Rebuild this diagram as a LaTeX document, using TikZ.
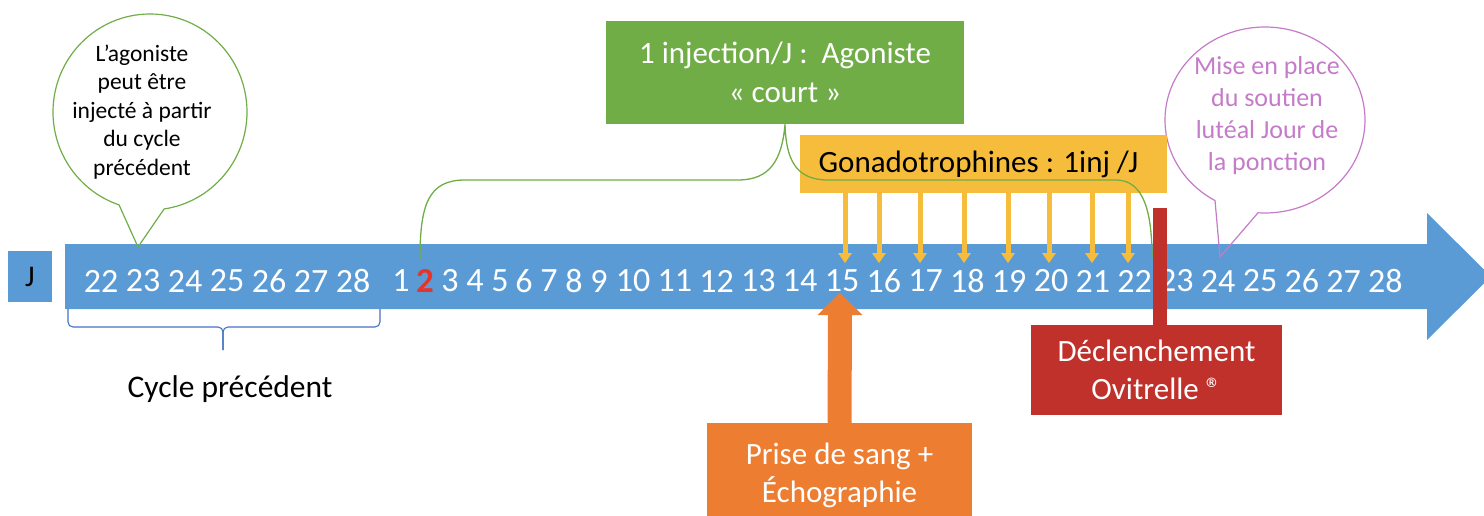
\documentclass[tikz,border=0pt]{standalone}
\usepackage{fontspec}
\setmainfont{Carlito}
\usetikzlibrary{shapes.callouts,calc}
\definecolor{blueA}{HTML}{5B9BD5}
\definecolor{greenA}{HTML}{70AD47}
\definecolor{orangeA}{HTML}{ED7D31}
\definecolor{goldA}{HTML}{F6BD3C}
\definecolor{redA}{HTML}{C0312B}
\definecolor{pinkA}{HTML}{C47BC8}
\definecolor{braceA}{HTML}{4472C4}
\definecolor{redday}{HTML}{E5352B}
\begin{document}
\begin{tikzpicture}[x=1pt,y=-1pt,
  day/.style={text=white,inner sep=0pt,font=\fontsize{34}{40}\selectfont},
  box/.style={rectangle,inner sep=0pt,align=center},
  gline/.style={draw=greenA,line width=1.3pt},
  gshaft/.style={draw=goldA,line width=5pt},
  oshaft/.style={draw=orangeA,line width=24pt},
  bubble/.style={ellipse callout,inner sep=0pt,line width=1.2pt}
]
\useasboundingbox (0,0) rectangle (1484,516);

% main timeline arrow
\fill[blueA] (65,244) -- (1427,244) -- (1427,213) -- (1491,276.5) -- (1427,340) -- (1427,309) -- (65,309) -- cycle;

% J box
\node[box,fill=blueA,minimum width=44pt,minimum height=51pt,font=\fontsize{30}{34}\selectfont] (J) at (30,276.5) {J};

% day numbers
\foreach \n [count=\i from 0] in {22,23,24,25,26,27,28}
  \node[day] (p\n) at ({101+42*\i},281) {\n};
\foreach \n/\x in {1/401,3/450,4/475,5/500,6/524,7/549,8/574,9/599}
  \node[day] (c\n) at (\x,281) {\n};
\node[day,text=redday,font=\fontsize{35}{40}\selectfont\bfseries] (c2) at (425,281) {2};
\foreach \n in {10,...,28}
  \node[day] (c\n) at ({633+41.8*(\n-10)},281) {\n};

% brace under previous cycle
\draw[braceA,line width=1.1pt,rounded corners=5pt] (68,309) -- (68,327) -- (223,327) -- (223,350);
\draw[braceA,line width=1.1pt,rounded corners=5pt] (380,309) -- (380,327) -- (223,327) -- (223,350);
\node[font=\fontsize{31.5}{36}\selectfont] (cyc) at (230,389) {Cycle précédent};

% green callout
\node[bubble,draw=greenA,minimum width=194pt,minimum height=196pt,
  callout absolute pointer={(138,247)},callout pointer arc=27] (cg) at (150,112) {};
\node[align=center,font=\fontsize{23.5}{28.5}\selectfont] (cgt) at (142,112)
  {L’agoniste\\peut être\\injecté à partir\\du cycle\\précédent};

% pink callout
\node[bubble,draw=pinkA,minimum width=200pt,minimum height=186pt,
  callout absolute pointer={(1220,257)},callout pointer arc=26] (cp) at (1265,120) {};
\node[align=center,text=pinkA,font=\fontsize{26}{32}\selectfont] (cpt) at (1267,116)
  {Mise en place\\du soutien\\lutéal Jour de\\la ponction};

% green box
\node[box,fill=greenA,text=white,minimum width=358pt,minimum height=103pt,
  font=\fontsize{31}{39}\selectfont] (inj) at (785,72.5)
  {1 injection/J~:~ Agoniste\\«~court~»};

% yellow box
\node[box,fill=goldA,minimum width=367pt,minimum height=58pt,
  font=\fontsize{31}{36}\selectfont] (gon) at (983.5,164) {Gonadotrophines : 1inj /J\hspace*{10pt}};

% green brace-like connector
\coordinate (g2) at (420,259);
\coordinate (g22) at (1152,258);
\draw[gline] (g2) .. controls (420,205) and (428,180) .. (465,180) -- (738,180)
  .. controls (770,180) and (782,160) .. (inj.south)
  .. controls (786,160) and (796,180) .. (828,180) -- (1116,180)
  .. controls (1145,180) and (1152,215) .. (g22);

% yellow arrows
\foreach \x [count=\k from 15] in {845,879,920,964,1008,1049,1092,1128} {
  \coordinate (ya\k) at (\x,263);
  \draw[gshaft] (gon.south -| ya\k) -- ($(ya\k)+(0,-9)$);
  \fill[goldA] ($(ya\k)+(-7,-10)$) -- ($(ya\k)+(7,-10)$) -- (ya\k) -- cycle;
}

% orange box and arrow
\node[box,fill=orangeA,text=white,minimum width=265pt,minimum height=104pt,
  font=\fontsize{31}{38}\selectfont] (pr) at (839.5,475) {Prise de sang +\\Échographie};
\coordinate (otip) at (840,293);
\draw[oshaft] (pr.north) -- ($(otip)+(0,21)$);
\fill[orangeA] ($(otip)+(-22.5,22)$) -- ($(otip)+(22.5,22)$) -- (otip) -- cycle;

% red box and bar
\node[box,fill=redA,text=white,minimum width=251pt,minimum height=90pt,
  font=\fontsize{31}{38}\selectfont] (dec) at (1156.5,370)
  {Déclenchement\\Ovitrelle ®};
\coordinate (rtop) at (1160,208);
\draw[redA,line width=14pt] (dec.north -| rtop) -- (rtop);
\end{tikzpicture}
\end{document}
